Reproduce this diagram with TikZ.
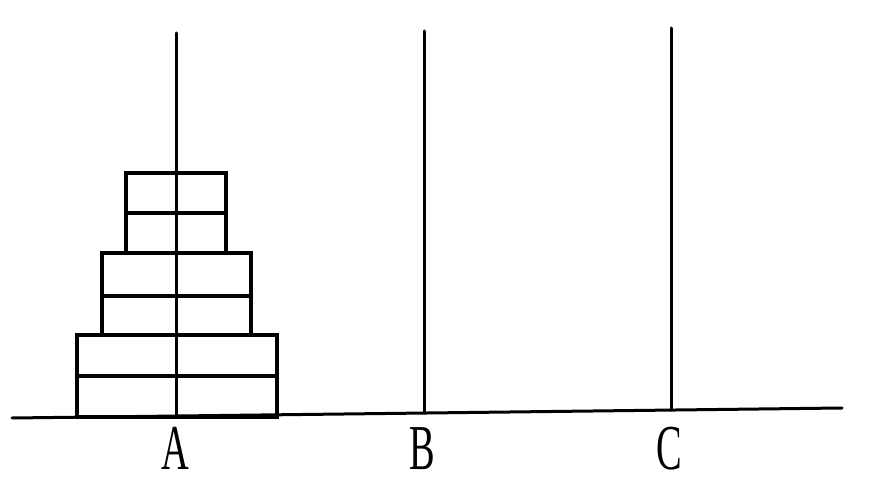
\documentclass[tikz,border=0pt]{standalone}
\usepackage{fontspec}
\setmainfont{Liberation Serif}
\begin{document}
\begin{tikzpicture}[x=1pt,y=-1pt,
  ln/.style={line width=3pt,line cap=round},
  disk/.style={line width=3.2pt,line join=miter},
  lbl/.style={font=\fontsize{64}{64}\selectfont,inner sep=0pt,anchor=base}]
\useasboundingbox (0,0) rectangle (871,478);
% ground
\coordinate (g1) at (12,418);
\coordinate (g2) at (842,408);
\draw[ln] (g1) -- (g2);
% pegs
\coordinate (at) at (176,33);  \coordinate (ab) at (176,417);
\coordinate (bt) at (424,31);  \coordinate (bb) at (424,413);
\coordinate (ct) at (671,28);  \coordinate (cb) at (671,410);
% disks
\draw[disk] (126,173) rectangle (226,213);
\draw[disk] (126,213) rectangle (226,253);
\draw[disk] (102,253) rectangle (251,296);
\draw[disk] (102,296) rectangle (251,335);
\draw[disk] (77,335) rectangle (277,376);
\draw[disk] (77,376) rectangle (277,417);
\draw[ln] (at) -- (ab);
\draw[ln] (bt) -- (bb);
\draw[ln] (ct) -- (cb);
% labels
\node[lbl] (la) at (175,470) {\scalebox{0.6}[1]{A}};
\node[lbl] (lb) at (422,470) {\scalebox{0.6}[1]{B}};
\node[lbl] (lc) at (669,470) {\scalebox{0.6}[1]{C}};
\end{tikzpicture}
\end{document}
